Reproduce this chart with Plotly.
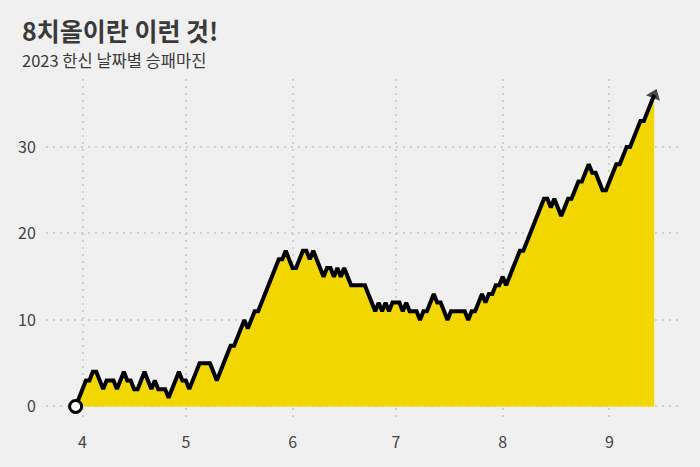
import pandas as pd
import plotly.graph_objects as go

# Win-loss margin (wins minus losses) for each calendar day, 2023 Hanshin
march_margin = [0, 1]  # Mar 30 (start), Mar 31
april_margin = [2, 3, 3, 4, 4, 3, 2, 3, 3, 3,
                2, 3, 4, 3, 3, 2, 2, 3, 4, 3,
                2, 3, 2, 2, 2, 1, 2, 3, 4, 3]
may_margin = [3, 2, 3, 4, 5, 5, 5, 5, 4, 3,
              4, 5, 6, 7, 7, 8, 9, 10, 9, 10,
              11, 11, 12, 13, 14, 15, 16, 17, 17, 18,
              17]
june_margin = [16, 16, 17, 18, 18, 17, 18, 17, 16, 15,
               16, 16, 15, 16, 15, 16, 15, 14, 14, 14,
               14, 14, 13, 12, 11, 12, 11, 12, 11, 12]
july_margin = [12, 12, 11, 12, 11, 11, 11, 10, 11, 11,
               12, 13, 12, 12, 11, 10, 11, 11, 11, 11,
               11, 10, 11, 11, 12, 13, 12, 13, 13, 14,
               14]
august_margin = [15, 14, 15, 16, 17, 18, 18, 19, 20, 21,
                 22, 23, 24, 24, 23, 24, 23, 22, 23, 24,
                 24, 25, 26, 26, 27, 28, 27, 27, 26, 25,
                 25]
september_margin = [26, 27, 28, 28, 29, 30, 30, 31, 32, 33, 33, 34, 35, 36]

start_date = "2023-03-30"
month_ticks = ["2023-04-01", "2023-05-01", "2023-06-01", "2023-07-01", "2023-08-01", "2023-09-01"]
month_labels = ["4", "5", "6", "7", "8", "9"]
y_ticks = [0, 10, 20, 30]

title_text = "8치올이란 이런 것!"
subtitle_text = "2023 한신 날짜별 승패마진"

margin = (march_margin + april_margin + may_margin + june_margin
          + july_margin + august_margin + september_margin)
dates = pd.date_range(start_date, periods=len(margin), freq="D")

BG = "#f0f0f0"
YELLOW = "#f2d600"
GRID = "#cfcfcf"
FONT = "Noto Sans CJK KR"

fig = go.Figure()
fig.add_trace(go.Scatter(
    x=dates, y=margin, mode="lines",
    line=dict(color="black", width=4),
    fill="tozeroy", fillcolor=YELLOW,
    hoverinfo="skip", showlegend=False,
))
# start marker
fig.add_trace(go.Scatter(
    x=[dates[0]], y=[margin[0]], mode="markers",
    marker=dict(size=12, color="white", line=dict(color="black", width=3)),
    hoverinfo="skip", showlegend=False, cliponaxis=False,
))
# end arrow head
fig.add_trace(go.Scatter(
    x=list(dates[-2:]), y=margin[-2:], mode="markers",
    marker=dict(symbol="triangle-up", size=[0, 13], color="black", angleref="previous",
                line=dict(width=0)),
    hoverinfo="skip", showlegend=False, cliponaxis=False,
))

t0 = pd.Timestamp(start_date)
x_range = [t0 + pd.Timedelta(days=-8.6), t0 + pd.Timedelta(days=175.5)]

fig.update_layout(
    width=700, height=467,
    paper_bgcolor=BG, plot_bgcolor=BG,
    margin=dict(l=46, r=20, t=79, b=45),
    font=dict(family=FONT, color="#444444", size=16),
    xaxis=dict(
        range=x_range, tickvals=month_ticks, ticktext=month_labels,
        showgrid=True, gridcolor=GRID, griddash="2px,5px", gridwidth=2,
        zeroline=False, showline=False,
        ticks="outside", ticklen=6, tickcolor=BG,
        tickfont=dict(size=16, color="#444444"),
    ),
    yaxis=dict(
        range=[-1.8, 37.85], tickvals=y_ticks,
        showgrid=True, gridcolor=GRID, griddash="2px,5px", gridwidth=2,
        zeroline=False, showline=False,
        ticks="outside", ticklen=6, tickcolor=BG,
        tickfont=dict(size=16, color="#444444"),
    ),
    annotations=[
        dict(text=f"<b>{title_text}</b>", xref="paper", yref="paper",
             x=(20 - 46) / 634, y=1 + (79 - 30) / 343, xanchor="left", yanchor="middle",
             showarrow=False, font=dict(size=25, color="#3a3a3a", family=FONT)),
        dict(text=subtitle_text, xref="paper", yref="paper",
             x=(20 - 46) / 634, y=1 + (79 - 60) / 343, xanchor="left", yanchor="middle",
             showarrow=False, font=dict(size=16.5, color="#3a3a3a", family=FONT)),
    ],
)

fig.write_html(
    "out.html",
    config={"displayModeBar": False},
    post_script="document.body.style.margin='0';document.body.style.background='#f0f0f0';",
)
